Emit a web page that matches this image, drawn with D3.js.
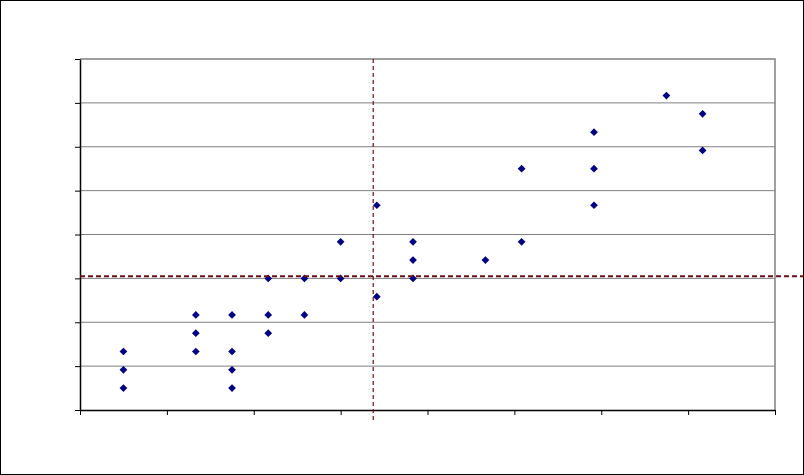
<!DOCTYPE html>
<html lang="en">
<head>
<meta charset="utf-8">
<title>Scatter</title>
<style>
  body { margin: 0; background: #fff; }
  .grid line { stroke: #808080; stroke-width: 1px; }
  .axis path, .axis line { stroke: #000; }
  .axis path { stroke-width: 1.5px; }
  .frame { fill: none; stroke: #808080; stroke-width: 1.5px; }
  .ref { fill: none; stroke: #6e0f14; }
  .ref-h { stroke-width: 2px; stroke-dasharray: 5,3; }
  .ref-v { stroke-width: 1.2px; stroke-dasharray: 4,3; }
  .dot { fill: #000080; }
</style>
</head>
<body>
<div id="chart"></div>
<script src="https://cdn.jsdelivr.net/npm/d3@7"></script>
<script>
// points
var xValues = [6, 6, 6, 16, 16, 16, 21, 21, 21, 21, 26, 26, 26, 31, 31, 36, 36,
               41, 41, 46, 46, 46, 56, 61, 61, 71, 71, 71, 81, 86, 86];
var yValues = [16, 11, 6, 26, 21, 16, 26, 16, 11, 6, 36, 26, 21, 36, 26, 46, 36,
               56, 31, 46, 41, 36, 41, 66, 46, 76, 66, 56, 86, 81, 71];
var xTicks = [0, 12, 24, 36, 48, 60, 72, 84, 96];
var yTicks = [0, 12, 24, 36, 48, 60, 72, 84, 96];
// dashed reference lines
var refX = 40.5, refY = 36.6;

var W = 804, H = 475;
var margin = {top: 59, right: 29, bottom: 65, left: 80};

var svg = d3.select("#chart").append("svg")
    .attr("width", W)
    .attr("height", H);

svg.append("rect")
    .attr("x", 0.5).attr("y", 0.5)
    .attr("width", W - 1).attr("height", H - 1)
    .attr("fill", "#fff").attr("stroke", "#000");

var x = d3.scaleLinear().domain([0, 96]).range([margin.left, W - margin.right]);
var y = d3.scaleLinear().domain([0, 96]).range([H - margin.bottom, margin.top]);

// gridlines
svg.append("g").attr("class", "grid")
  .selectAll("line")
  .data(yTicks.slice(1, -1))
  .enter().append("line")
    .attr("x1", x(0)).attr("x2", x(96))
    .attr("y1", function(d) { return y(d); })
    .attr("y2", function(d) { return y(d); });

// top and right border of plot area
svg.append("path")
    .attr("class", "frame")
    .attr("d", "M" + x(0) + "," + y(96) + "H" + x(96) + "V" + y(0));

var data = xValues.map(function(v, i) { return {x: v, y: yValues[i]}; });

var sym = d3.symbol().type(d3.symbolDiamond2).size(38);
svg.append("g")
  .selectAll("path")
  .data(data)
  .enter().append("path")
    .attr("class", "dot")
    .attr("transform", function(d) { return "translate(" + x(d.x) + "," + y(d.y) + ")"; })
    .attr("d", sym);

svg.append("g")
    .attr("class", "axis axis--x")
    .attr("transform", "translate(0," + y(0) + ")")
    .call(d3.axisBottom(x).tickValues(xTicks).tickSize(5).tickSizeOuter(0).tickFormat(""));

svg.append("g")
    .attr("class", "axis axis--y")
    .attr("transform", "translate(" + x(0) + ",0)")
    .call(d3.axisLeft(y).tickValues(yTicks).tickSize(5).tickSizeOuter(0).tickFormat(""));

svg.append("line")
    .attr("class", "ref ref-h")
    .attr("x1", x(0)).attr("x2", W)
    .attr("y1", y(refY)).attr("y2", y(refY));

svg.append("line")
    .attr("class", "ref ref-v")
    .attr("x1", x(refX)).attr("x2", x(refX))
    .attr("y1", y(96)).attr("y2", y(0) + 11);
</script>
</body>
</html>
